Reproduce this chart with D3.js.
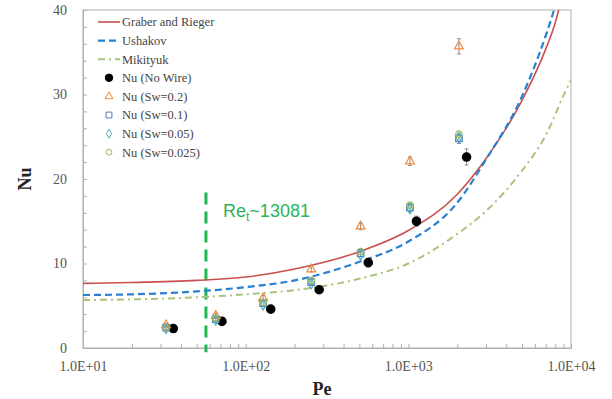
<!DOCTYPE html>
<html>
<head>
<meta charset="utf-8">
<script src="https://cdn.jsdelivr.net/npm/d3@7"></script>
<style>
  body { margin: 0; background: #fff; }
  svg { display: block; }
</style>
</head>
<body>
<div id="chart"></div>
<script>
// correlations (Pe -> Nu)
const corrPe = [10, 20, 50, 100, 200, 500, 1000, 2000, 3000, 5000, 7000, 8000, 8400, 10000];
const graberRieger = [7.65, 7.75, 8.0, 8.4, 9.35, 11.4, 13.9, 18.2, 22.4, 29.3, 35.4, 38.5, 40.0, 47];
const ushakov = [6.27, 6.35, 6.7, 7.2, 8.0, 10.2, 12.6, 17.2, 22.3, 29.8, 37.0, 40.5, 42, 50];
const mikityuk = [5.68, 5.75, 6.0, 6.35, 6.85, 8.2, 10.0, 13.5, 16.2, 21.0, 25.2, 27.6, 28.6, 31.7];

// measurements
const pePlain = [35.9, 71.5, 142.6, 283, 567, 1122, 2280];
const nuPlain = [2.3, 3.15, 4.6, 6.9, 10.1, 15.0, 22.6];
const errPlain = [0.2, 0.3, 0.3, 0.4, 0.5, 0.6, 0.95];

const peWire = [32.4, 65.5, 128, 253, 509, 1023, 2047];
const nuSw02 = [2.7, 3.8, 5.9, 9.3, 14.4, 22.1, 35.7];
const errSw02 = [0.2, 0.3, 0.3, 0.3, 0.4, 0.5, 0.9];
const nuSw01 = [2.4, 3.4, 5.3, 7.8, 11.2, 16.6, 24.8];
const errSw01 = [0.2, 0.2, 0.3, 0.3, 0.4, 0.5, 0.6];
const nuSw005 = [2.3, 3.3, 5.1, 7.6, 11.0, 16.5, 24.9];
const nuSw0025 = [2.4, 3.5, 5.4, 8.0, 11.4, 16.9, 25.3];

const xTicks = [10, 100, 1000, 10000];
const xTickLabels = ['1.0E+01', '1.0E+02', '1.0E+03', '1.0E+04'];
const yTicks = [0, 10, 20, 30, 40];

const reTransitionPe = 57;

const W = 612, H = 399;
const m = {left: 83, right: 41, top: 10, bottom: 51};
const serif = '"Liberation Serif", "Times New Roman", serif';

const svg = d3.select('#chart').append('svg')
  .attr('width', W)
  .attr('height', H);

const x = d3.scaleLog().domain([10, 10000]).range([m.left, W - m.right]);
const y = d3.scaleLinear().domain([0, 40]).range([H - m.bottom, m.top]);

svg.append('clipPath').attr('id', 'plotclip')
  .append('rect')
  .attr('x', m.left).attr('y', m.top)
  .attr('width', W - m.left - m.right)
  .attr('height', H - m.top - m.bottom);

// frame
svg.append('rect')
  .attr('x', m.left).attr('y', m.top)
  .attr('width', W - m.left - m.right)
  .attr('height', H - m.top - m.bottom)
  .attr('fill', 'none')
  .attr('stroke', '#b0b0b0')
  .attr('stroke-width', 1);

// x axis, minor ticks pointing in
let xMinor = [];
for (let d = 10; d < 10000; d *= 10) {
  for (let k = 1; k < 10; k++) xMinor.push(d * k);
}
xMinor.push(10000);

const xAxis = d3.axisBottom(x)
  .tickValues(xMinor)
  .tickSize(-4)
  .tickPadding(13)
  .tickFormat(d => {
    const i = xTicks.indexOf(d);
    return i >= 0 ? xTickLabels[i] : '';
  });

const yAxis = d3.axisLeft(y)
  .tickValues(d3.range(0, 41, 2))
  .tickSize(-4)
  .tickPadding(16)
  .tickFormat(d => yTicks.includes(d) ? d : '');

function styleAxis(g) {
  g.attr('font-family', serif).attr('font-size', 14);
  g.select('.domain').attr('stroke', '#b0b0b0');
  g.selectAll('.tick line').attr('stroke', '#b0b0b0');
  g.selectAll('.tick text').attr('fill', '#555').attr('font-family', serif).attr('font-size', 14);
}

svg.append('g')
  .attr('transform', `translate(0,${H - m.bottom})`)
  .call(xAxis)
  .call(styleAxis);

svg.append('g')
  .attr('transform', `translate(${m.left},0)`)
  .call(yAxis)
  .call(styleAxis);

// axis titles
svg.append('text')
  .attr('x', 322).attr('y', 395)
  .attr('text-anchor', 'middle')
  .attr('font-family', serif)
  .attr('font-weight', 'bold')
  .attr('font-size', 18)
  .attr('fill', '#222')
  .text('Pe');

svg.append('text')
  .attr('transform', `translate(31,${(m.top + H - m.bottom) / 2}) rotate(-90)`)
  .attr('text-anchor', 'middle')
  .attr('font-family', serif)
  .attr('font-weight', 'bold')
  .attr('font-size', 18)
  .attr('fill', '#222')
  .text('Nu');

// transition marker
svg.append('line')
  .attr('x1', x(reTransitionPe)).attr('x2', x(reTransitionPe))
  .attr('y1', y(18.4)).attr('y2', y(-0.5))
  .attr('stroke', '#1fb850')
  .attr('stroke-width', 3)
  .attr('stroke-dasharray', '12,7');

const reLabel = svg.append('text')
  .attr('x', 223).attr('y', 217)
  .attr('font-family', '"Liberation Sans", sans-serif')
  .attr('font-size', 18)
  .attr('fill', '#2bb45a');
reLabel.append('tspan').text('Re');
reLabel.append('tspan').attr('font-size', 12).attr('dy', 4).text('t');
reLabel.append('tspan').attr('dy', -4).text('~13081');

// correlation curves
const plot = svg.append('g').attr('clip-path', 'url(#plotclip)');

const curves = [
  {vals: graberRieger, color: '#c8504d', width: 1.6, dash: null},
  {vals: ushakov, color: '#2a80d0', width: 2.2, dash: '7,4'},
  {vals: mikityuk, color: '#a8c47c', width: 2, dash: '7,4,2,4'}
];

const line = d3.line()
  .x(d => x(d[0]))
  .y(d => y(d[1]))
  .curve(d3.curveMonotoneX);

curves.forEach(c => {
  plot.append('path')
    .datum(corrPe.map((p, i) => [p, c.vals[i]]))
    .attr('d', line)
    .attr('fill', 'none')
    .attr('stroke', c.color)
    .attr('stroke-width', c.width)
    .attr('stroke-dasharray', c.dash);
});

// error bars
function errorBars(pe, nu, err) {
  const g = plot.append('g')
    .attr('stroke', '#8a8a8a')
    .attr('stroke-width', 1);
  pe.forEach((p, i) => {
    const cx = x(p);
    g.append('line').attr('x1', cx).attr('x2', cx).attr('y1', y(nu[i] - err[i])).attr('y2', y(nu[i] + err[i]));
    g.append('line').attr('x1', cx - 2).attr('x2', cx + 2).attr('y1', y(nu[i] - err[i])).attr('y2', y(nu[i] - err[i]));
    g.append('line').attr('x1', cx - 2).attr('x2', cx + 2).attr('y1', y(nu[i] + err[i])).attr('y2', y(nu[i] + err[i]));
  });
}

errorBars(pePlain, nuPlain, errPlain);
errorBars(peWire, nuSw02, errSw02);
errorBars(peWire, nuSw01, errSw01);

const series = [
  {name: 'Nu (No Wire)', pe: pePlain, nu: nuPlain, sym: d3.symbolCircle, size: 55, fill: '#000', stroke: '#000'},
  {name: 'Nu (Sw=0.2)', pe: peWire, nu: nuSw02, sym: d3.symbolTriangle, size: 34, fill: 'none', stroke: '#f08a3c'},
  {name: 'Nu (Sw=0.1)', pe: peWire, nu: nuSw01, sym: d3.symbolSquare, size: 42, fill: 'none', stroke: '#4f81bd'},
  {name: 'Nu (Sw=0.05)', pe: peWire, nu: nuSw005, sym: d3.symbolDiamond, size: 30, fill: 'none', stroke: '#4bacc6'},
  {name: 'Nu (Sw=0.025)', pe: peWire, nu: nuSw0025, sym: d3.symbolCircle, size: 34, fill: 'none', stroke: '#9bbb59'}
];

series.forEach(s => {
  plot.append('g').selectAll('path')
    .data(s.pe.map((p, i) => [p, s.nu[i]]))
    .join('path')
    .attr('transform', d => `translate(${x(d[0])},${y(d[1])})`)
    .attr('d', d3.symbol(s.sym, s.size))
    .attr('fill', s.fill)
    .attr('stroke', s.stroke)
    .attr('stroke-width', 1.2);
});

// legend
const legend = svg.append('g')
  .attr('font-family', serif)
  .attr('font-size', 12.5)
  .attr('fill', '#444');
const rowH = 18.6, ly0 = 22;
const curveNames = ['Graber and Rieger', 'Ushakov', 'Mikityuk'];

curves.forEach((c, i) => {
  const yy = ly0 + i * rowH;
  legend.append('line')
    .attr('x1', 98).attr('x2', 120)
    .attr('y1', yy).attr('y2', yy)
    .attr('stroke', c.color)
    .attr('stroke-width', c.width)
    .attr('stroke-dasharray', c.dash);
  legend.append('text').attr('x', 122).attr('y', yy).attr('dy', '0.35em').text(curveNames[i]);
});

series.forEach((s, i) => {
  const yy = ly0 + (i + 3) * rowH;
  legend.append('path')
    .attr('transform', `translate(109,${yy})`)
    .attr('d', d3.symbol(s.sym, s.size * 0.8))
    .attr('fill', s.fill)
    .attr('stroke', s.stroke)
    .attr('stroke-width', 1);
  legend.append('text').attr('x', 122).attr('y', yy).attr('dy', '0.35em').text(s.name);
});
</script>
</body>
</html>
